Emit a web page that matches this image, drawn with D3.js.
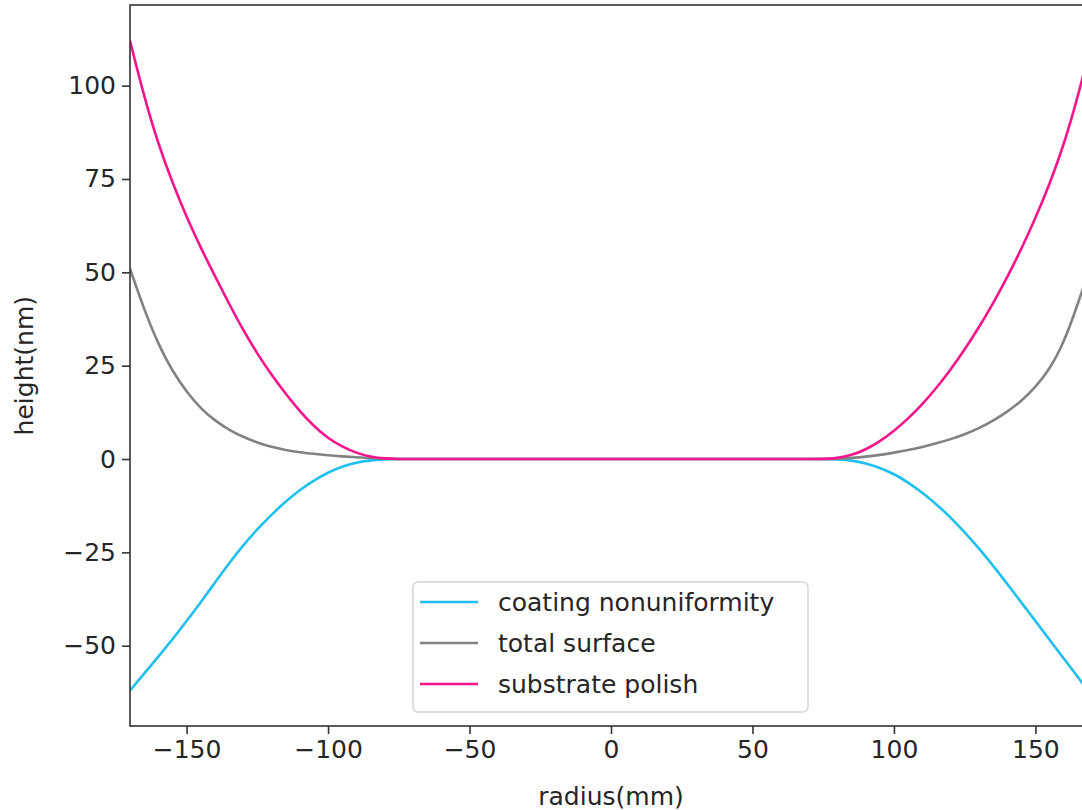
<!DOCTYPE html>
<html>
<head>
<meta charset="utf-8">
<script src="https://cdn.jsdelivr.net/npm/d3@7/dist/d3.min.js"></script>
<style>
  body { margin: 0; background: #fff; }
  text { font-family: "DejaVu Sans", sans-serif; fill: #262626; }
</style>
</head>
<body>
<div id="chart"></div>
<script>
// radio en mm, cada 5 mm
const radius = d3.range(-170, 171, 5);

// valores (nm), de -170 a 170
const coating = [
  -62, -57.5, -52.9, -48.3, -43.4, -38.4, -33.1, -27.9, -23.1, -18.8,
  -14.9, -11.4, -8.3, -5.7, -3.6, -2.0, -0.9, -0.3, -0.05,
  0, 0, 0, 0, 0, 0, 0, 0, 0, 0, 0, 0, 0, 0, 0, 0, 0, 0, 0, 0, 0, 0, 0, 0, 0, 0, 0, 0, 0, 0, 0,
  -0.05, -0.35, -1.1, -2.3, -4.0, -6.2, -9.0, -12.1, -15.6, -19.6,
  -23.9, -28.5, -33.4, -38.4, -43.4, -48.4, -53.4, -58.4, -63.4
];
const total = [
  51, 40, 30.7, 23.5, 18, 13.5, 10.3, 7.8, 5.9, 4.4,
  3.2, 2.4, 1.8, 1.4, 1.0, 0.7, 0.45, 0.25, 0.1,
  0, 0, 0, 0, 0, 0, 0, 0, 0, 0, 0, 0, 0, 0, 0, 0, 0, 0, 0, 0, 0, 0, 0, 0, 0, 0, 0, 0, 0, 0, 0,
  0.1, 0.3, 0.6, 1.1, 1.7, 2.4, 3.2, 4.2, 5.3, 6.6,
  8.2, 10.2, 12.6, 15.5, 19.2, 24, 31, 41.5, 53
];
const polish = [
  112, 97, 84.3, 74, 64.8, 56.6, 49, 41.6, 34.5, 28.2,
  22.5, 17.5, 12.8, 8.8, 5.5, 3.3, 1.6, 0.6, 0.1,
  0, 0, 0, 0, 0, 0, 0, 0, 0, 0, 0, 0, 0, 0, 0, 0, 0, 0, 0, 0, 0, 0, 0, 0, 0, 0, 0, 0, 0, 0, 0,
  0.2, 1.0, 2.5, 4.7, 7.5, 10.8, 14.6, 19, 23.9, 29.3,
  35.2, 41.6, 48.6, 56.2, 64.5, 73.6, 84, 97, 112
];

const seriesNames = ["coating nonuniformity", "total surface", "substrate polish"];
const xTicks = [-150, -100, -50, 0, 50, 100, 150];
const yTicks = [-50, -25, 0, 25, 50, 75, 100];

const series = [
  { name: seriesNames[0], values: coating, color: "#1fbff0" },
  { name: seriesNames[1], values: total, color: "#828282" },
  { name: seriesNames[2], values: polish, color: "#f5158c" }
];

// margenes y tamanos
const W = 1082, H = 810;
const margin = { top: 5, left: 130 };
const plotW = 962, plotH = 721;

const svg = d3.select("#chart").append("svg")
  .attr("width", W)
  .attr("height", H);

const g = svg.append("g")
  .attr("transform", "translate(" + margin.left + "," + margin.top + ")");

const x = d3.scaleLinear().domain([-170, 170]).range([0, plotW]);
const y = d3.scaleLinear().domain([-71.5, 121.6]).range([plotH, 0]);

g.append("clipPath").attr("id", "clip")
  .append("rect").attr("width", plotW).attr("height", plotH);

// lineas
const line = d3.line()
  .x((d, i) => x(radius[i]))
  .y(d => y(d))
  .curve(d3.curveBasis);

g.append("g").attr("clip-path", "url(#clip)")
  .selectAll("path")
  .data(series)
  .enter().append("path")
  .attr("fill", "none")
  .attr("stroke", d => d.color)
  .attr("stroke-width", 2.6)
  .attr("d", d => line(d.values));

// ejes
const xAxis = d3.axisBottom(x).tickValues(xTicks).tickSize(8).tickPadding(6)
  .tickFormat(d => d < 0 ? "\u2212" + Math.abs(d) : d);
const yAxis = d3.axisLeft(y).tickValues(yTicks).tickSize(8).tickPadding(6)
  .tickFormat(d => d < 0 ? "\u2212" + Math.abs(d) : d);

const gx = g.append("g")
  .attr("transform", "translate(0," + plotH + ")")
  .call(xAxis);
const gy = g.append("g").call(yAxis);

[gx, gy].forEach(a => {
  a.select(".domain").remove();
  a.selectAll("line").attr("stroke", "#333").attr("stroke-width", 1.6);
  a.selectAll("text").style("font-size", "25px").style("fill", "#262626")
    .style("font-family", "'DejaVu Sans', sans-serif");
});

// marco
g.append("rect")
  .attr("width", plotW).attr("height", plotH)
  .attr("fill", "none").attr("stroke", "#333").attr("stroke-width", 1.6);

// titulos de ejes
svg.append("text")
  .attr("x", margin.left + x(0))
  .attr("y", 805)
  .attr("text-anchor", "middle")
  .style("font-size", "25px")
  .text("radius(mm)");

svg.append("text")
  .attr("transform", "translate(33," + (margin.top + y(25)) + ") rotate(-90)")
  .attr("text-anchor", "middle")
  .style("font-size", "25px")
  .text("height(nm)");

// leyenda
const legend = g.append("g").attr("transform", "translate(283,577)");
legend.append("rect")
  .attr("width", 395).attr("height", 130)
  .attr("rx", 5)
  .attr("fill", "#fff").attr("fill-opacity", 0.8)
  .attr("stroke", "#d5d5d5").attr("stroke-width", 1.5);

const item = legend.selectAll(".item")
  .data(series)
  .enter().append("g")
  .attr("transform", (d, i) => "translate(0," + (20 + i * 41) + ")");

item.append("line")
  .attr("x1", 7).attr("x2", 65)
  .attr("stroke", d => d.color)
  .attr("stroke-width", 2.6);

item.append("text")
  .attr("x", 85)
  .attr("dy", "0.35em")
  .style("font-size", "25px")
  .text(d => d.name);
</script>
</body>
</html>
